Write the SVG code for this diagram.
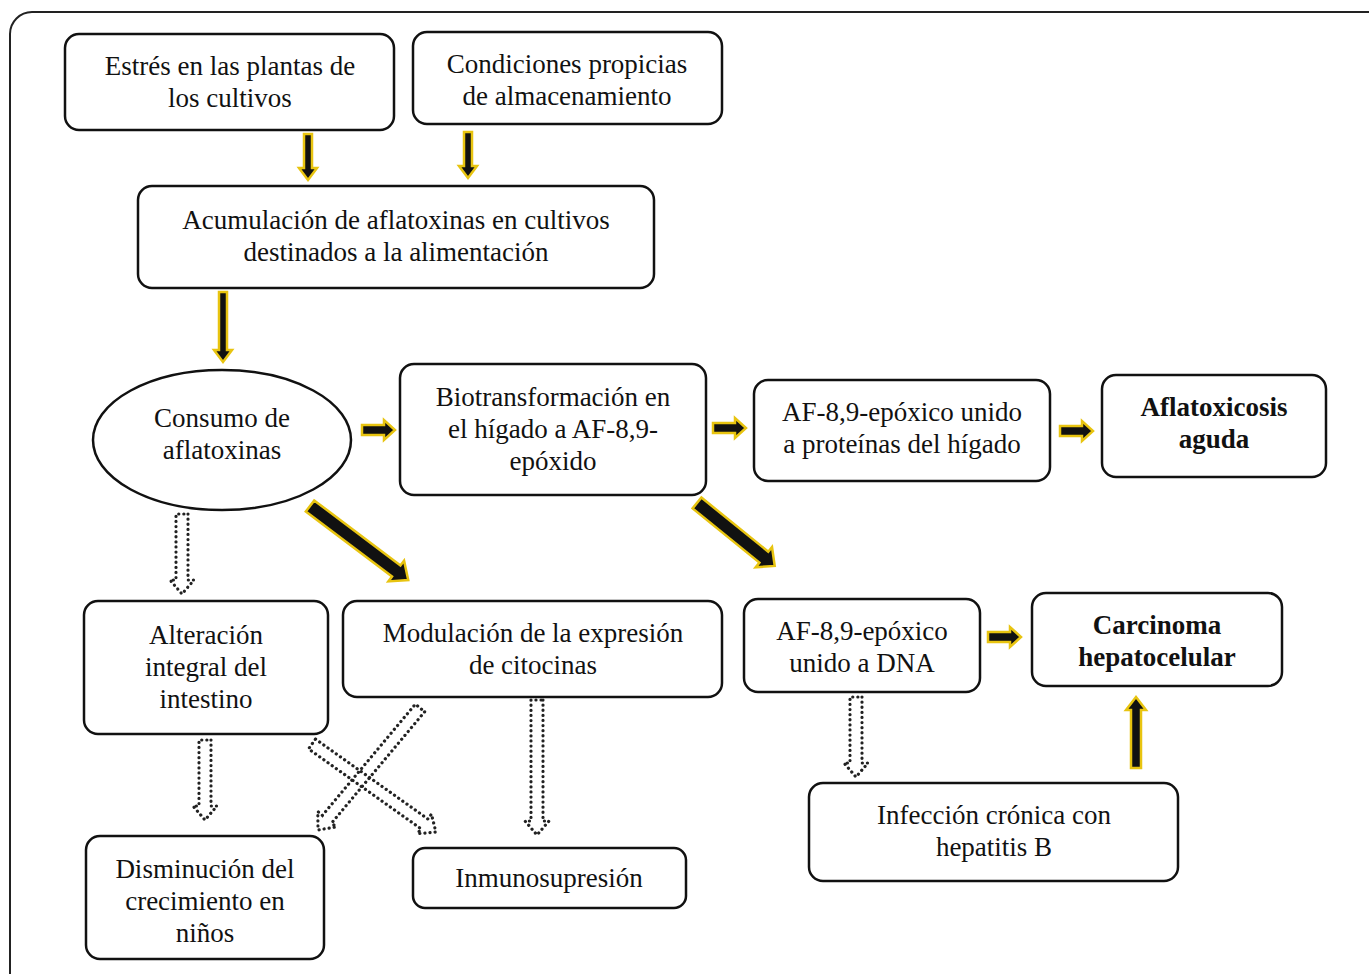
<svg xmlns="http://www.w3.org/2000/svg" width="1369" height="974" viewBox="0 0 1369 974">
<style>
.box{fill:#fff;stroke:#111;stroke-width:2.5}
.t{font-family:"Liberation Serif","Times New Roman",Times,serif;font-size:27px;fill:#111;text-anchor:middle}
.b{font-weight:bold}
.sa{fill:#111;stroke:#e8c410;stroke-width:2.5;stroke-linejoin:miter}
.da{fill:none;stroke:#222;stroke-width:3.2;stroke-dasharray:0.1 5;stroke-linecap:round}
</style>
<rect x="0" y="0" width="1369" height="974" fill="#fff"/>
<rect x="10" y="12" width="1420" height="1000" rx="22" fill="none" stroke="#222" stroke-width="2"/>
<g id="n1"><rect class="box" x="65" y="34" width="329" height="96" rx="14"/><text class="t" x="230" y="75">Estrés en las plantas de</text><text class="t" x="230" y="107">los cultivos</text></g>
<g id="n2"><rect class="box" x="413" y="32" width="309" height="92" rx="14"/><text class="t" x="567" y="73">Condiciones propicias</text><text class="t" x="567" y="105">de almacenamiento</text></g>
<g id="n3"><rect class="box" x="138" y="186" width="516" height="102" rx="14"/><text class="t" x="396" y="229">Acumulación de aflatoxinas en cultivos</text><text class="t" x="396" y="261">destinados a la alimentación</text></g>
<g id="n4"><ellipse class="box" cx="222" cy="440" rx="129" ry="70"/><text class="t" x="222" y="427">Consumo de</text><text class="t" x="222" y="459">aflatoxinas</text></g>
<g id="n5"><rect class="box" x="400" y="364" width="306" height="131" rx="14"/><text class="t" x="553" y="406">Biotransformación en</text><text class="t" x="553" y="438">el hígado a AF-8,9-</text><text class="t" x="553" y="470">epóxido</text></g>
<g id="n6"><rect class="box" x="754" y="380" width="296" height="101" rx="14"/><text class="t" x="902" y="421">AF-8,9-epóxico unido</text><text class="t" x="902" y="453">a proteínas del hígado</text></g>
<g id="n7"><rect class="box" x="1102" y="375" width="224" height="102" rx="14"/><text class="t b" x="1214" y="416">Aflatoxicosis</text><text class="t b" x="1214" y="448">aguda</text></g>
<g id="n8"><rect class="box" x="84" y="601" width="244" height="133" rx="14"/><text class="t" x="206" y="644">Alteración</text><text class="t" x="206" y="676">integral del</text><text class="t" x="206" y="708">intestino</text></g>
<g id="n9"><rect class="box" x="343" y="601" width="379" height="96" rx="14"/><text class="t" x="533" y="642">Modulación de la expresión</text><text class="t" x="533" y="674">de citocinas</text></g>
<g id="n10"><rect class="box" x="744" y="599" width="236" height="93" rx="14"/><text class="t" x="862" y="640">AF-8,9-epóxico</text><text class="t" x="862" y="672">unido a DNA</text></g>
<g id="n11"><rect class="box" x="1032" y="593" width="250" height="93" rx="14"/><text class="t b" x="1157" y="634">Carcinoma</text><text class="t b" x="1157" y="666">hepatocelular</text></g>
<g id="n12"><rect class="box" x="809" y="783" width="369" height="98" rx="14"/><text class="t" x="994" y="824">Infección crónica con</text><text class="t" x="994" y="856">hepatitis B</text></g>
<g id="n13"><rect class="box" x="86" y="836" width="238" height="123" rx="14"/><text class="t" x="205" y="878">Disminución del</text><text class="t" x="205" y="910">crecimiento en</text><text class="t" x="205" y="942">niños</text></g>
<g id="n14"><rect class="box" x="413" y="848" width="273" height="60" rx="12"/><text class="t" x="549" y="887">Inmunosupresión</text></g>
<g id="connectors">
<path class="sa" transform="translate(308,134) rotate(90)" d="M0,-4 L34,-4 L34,-9 L46,0 L34,9 L34,4 L0,4 Z"/>
<path class="sa" transform="translate(468,132) rotate(90)" d="M0,-4 L34,-4 L34,-9 L46,0 L34,9 L34,4 L0,4 Z"/>
<path class="sa" transform="translate(223,292) rotate(90)" d="M0,-4 L58,-4 L58,-9 L70,0 L58,9 L58,4 L0,4 Z"/>
<path class="sa" transform="translate(362,430)" d="M0,-5 L22,-5 L22,-10 L33,0 L22,10 L22,5 L0,5 Z"/>
<path class="sa" transform="translate(713,428)" d="M0,-5 L22,-5 L22,-10 L33,0 L22,10 L22,5 L0,5 Z"/>
<path class="sa" transform="translate(1060,431)" d="M0,-5 L22,-5 L22,-10 L33,0 L22,10 L22,5 L0,5 Z"/>
<path class="sa" transform="translate(988,637)" d="M0,-5 L22,-5 L22,-10 L33,0 L22,10 L22,5 L0,5 Z"/>
<path class="sa" transform="translate(1136,768) rotate(-90)" d="M0,-5 L58,-5 L58,-10 L71,0 L58,10 L58,5 L0,5 Z"/>
<path class="sa" transform="translate(310,506) rotate(37)" d="M0,-7 L108,-7 L108,-13 L123,0 L108,13 L108,7 L0,7 Z"/>
<path class="sa" transform="translate(697,503) rotate(39)" d="M0,-7 L86,-7 L86,-13 L100,0 L86,13 L86,7 L0,7 Z"/>
<path class="da" transform="translate(182,514) rotate(90)" d="M0,-6 L66,-6 L66,-12 L80,0 L66,12 L66,6 L0,6 Z"/>
<path class="da" transform="translate(205,740) rotate(90)" d="M0,-6 L66,-6 L66,-12 L80,0 L66,12 L66,6 L0,6 Z"/>
<path class="da" transform="translate(537,700) rotate(90)" d="M0,-6 L121,-6 L121,-12 L135,0 L121,12 L121,6 L0,6 Z"/>
<path class="da" transform="translate(856,697) rotate(90)" d="M0,-6 L66,-6 L66,-12 L80,0 L66,12 L66,6 L0,6 Z"/>
<path class="da" transform="translate(420,708) rotate(129.9)" d="M0,-6 L145,-6 L145,-12 L159,0 L145,12 L145,6 L0,6 Z"/>
<path class="da" transform="translate(312,744) rotate(35.4)" d="M0,-6 L138,-6 L138,-12 L152,0 L138,12 L138,6 L0,6 Z"/>
</g>
</svg>
